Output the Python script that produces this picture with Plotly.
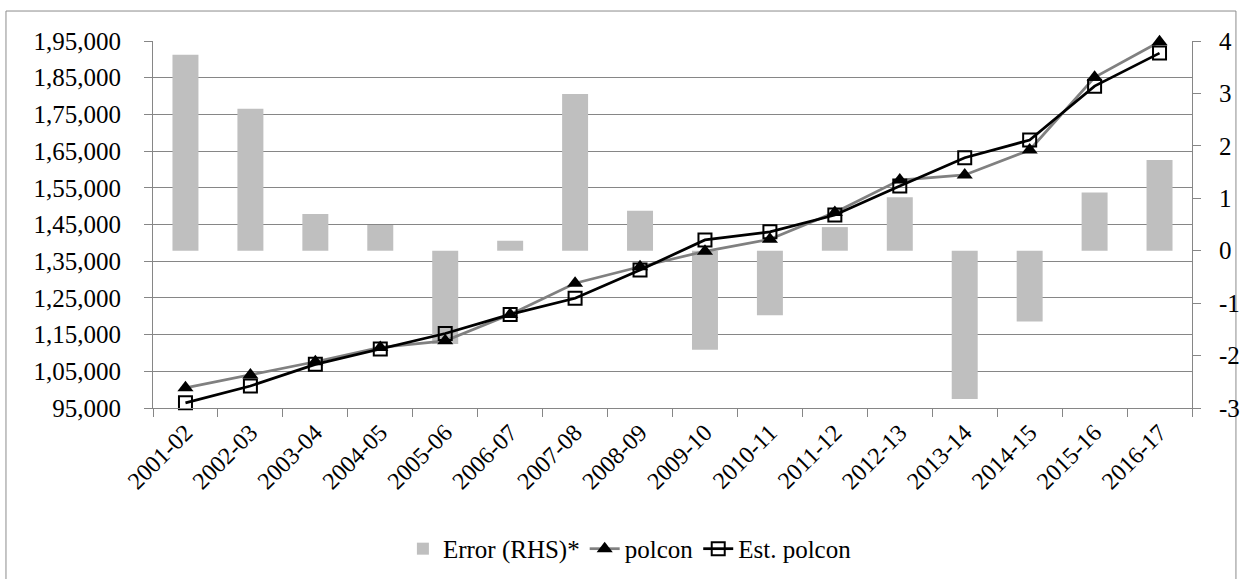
import plotly.graph_objects as go

years = ["2001-02", "2002-03", "2003-04", "2004-05", "2005-06", "2006-07", "2007-08", "2008-09",
         "2009-10", "2010-11", "2011-12", "2012-13", "2013-14", "2014-15", "2015-16", "2016-17"]
error_rhs = [3.74, 2.71, 0.70, 0.49, -1.78, 0.19, 2.99, 0.76, -1.89, -1.23, 0.45, 1.02, -2.83, -1.35, 1.11, 1.73]
polcon = [100500, 104000, 107600, 111500, 113300, 120500, 129000, 133500, 137700, 141000,
          148300, 157100, 158500, 165300, 185100, 194800]
est_polcon = [96400, 101000, 106900, 111100, 115300, 120500, 124900, 132600, 140800, 143000,
              147600, 155500, 163200, 168000, 182700, 191700]

left_tickvals = [95000, 105000, 115000, 125000, 135000, 145000, 155000, 165000, 175000, 185000, 195000]
left_ticktext = ["95,000", "1,05,000", "1,15,000", "1,25,000", "1,35,000", "1,45,000",
                 "1,55,000", "1,65,000", "1,75,000", "1,85,000", "1,95,000"]
right_tickvals = [-3, -2, -1, 0, 1, 2, 3, 4]
right_ticktext = ["-3", "-2", "-1", "0", "1", "2", "3", "4"]

FONT = "Liberation Serif, Times New Roman, serif"
GRID = "#868686"

fig = go.Figure()
fig.add_trace(go.Bar(x=years, y=error_rhs, name="Error (RHS)*", marker_color="#BFBFBF",
                     marker_line_width=0, width=0.4, yaxis="y"))
fig.add_trace(go.Scatter(x=years, y=polcon, name="polcon", mode="lines+markers", yaxis="y2",
                         cliponaxis=False,
                         line=dict(color="#808080", width=2.75),
                         marker=dict(symbol="triangle-up", size=14, color="black")))
fig.add_trace(go.Scatter(x=years, y=est_polcon, name="Est. polcon", mode="lines+markers", yaxis="y2",
                         cliponaxis=False,
                         line=dict(color="black", width=2.75),
                         marker=dict(symbol="square-open", size=13, color="black",
                                     line=dict(width=2, color="black"))))

fig.update_layout(
    width=1241, height=579,
    margin=dict(l=153, r=49, t=41, b=171, autoexpand=False),
    paper_bgcolor="white", plot_bgcolor="white",
    font=dict(family=FONT, size=25, color="black"),
    bargap=0.6,
    xaxis=dict(type="category", tickson="boundaries", ticks="outside", ticklen=8, tickcolor=GRID,
               showline=True, linecolor=GRID, linewidth=1, showgrid=False, tickangle=-45,
               tickfont=dict(family=FONT, size=24, color="black"), range=[-0.5, 15.5]),
    yaxis=dict(side="right", range=[-3, 4], tickvals=right_tickvals, ticktext=right_ticktext,
               ticks="outside", ticklen=8, tickcolor=GRID, showline=True, linecolor=GRID,
               showgrid=False, zeroline=False, ticklabelstandoff=13,
               tickfont=dict(family=FONT, size=25, color="black")),
    yaxis2=dict(side="left", overlaying="y", range=[95000, 195000], tickvals=left_tickvals,
                ticktext=left_ticktext, ticks="outside", ticklen=8, tickcolor=GRID,
                showline=True, linecolor=GRID, showgrid=True, gridcolor=GRID, gridwidth=1,
                zeroline=False, ticklabelstandoff=18, tickfont=dict(family=FONT, size=25, color="black")),
    legend=dict(orientation="h", x=0.459, xanchor="center", y=-0.384, yanchor="middle",
                font=dict(family=FONT, size=25, color="black"), bgcolor="rgba(0,0,0,0)",
                itemwidth=30),
    shapes=[dict(type="rect", xref="paper", yref="paper", x0=-0.1415, x1=1.0423, y0=-0.482, y1=1.0817,
                 line=dict(color="#8c8c8c", width=1), fillcolor="rgba(0,0,0,0)", layer="below")],
)

fig.write_html("out.html")
